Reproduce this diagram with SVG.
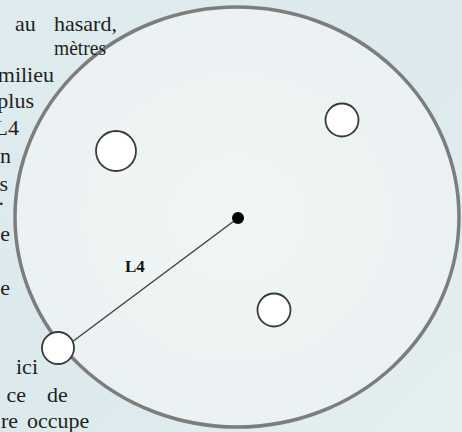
<svg xmlns="http://www.w3.org/2000/svg" width="462" height="432" viewBox="0 0 462 432">
  <defs>
    <linearGradient id="bg" x1="0" y1="0" x2="1" y2="1">
      <stop offset="0" stop-color="#deecef"/>
      <stop offset="0.5" stop-color="#dceaed"/>
      <stop offset="1" stop-color="#e4eff1"/>
    </linearGradient>
    <radialGradient id="disc" cx="0.5" cy="0.5" r="0.6">
      <stop offset="0" stop-color="#f1f5f5"/>
      <stop offset="1" stop-color="#eaf1f2"/>
    </radialGradient>
    <style>
      .para { font-family: "Liberation Serif", "Times New Roman", serif; font-size: 22px; fill: #231f20; }
      .hole { fill: #ffffff; stroke: #3a3a3a; stroke-width: 1.8; }
      .label { font-family: "Liberation Serif", "Times New Roman", serif; font-size: 17px; font-weight: bold; fill: #111111; }
    </style>
  </defs>
  <rect x="0" y="0" width="462" height="432" fill="url(#bg)"/>

  <g id="disc-node">
    <ellipse cx="237" cy="217" rx="222" ry="210" fill="url(#disc)" stroke="#7d7d7d" stroke-width="3.5"/>
  </g>

  <g id="paragraph" class="para">
    <text x="15" y="31">au</text>
    <text x="54" y="31">hasard,</text>
    <text x="54" y="55" textLength="52" lengthAdjust="spacingAndGlyphs">mètres</text>
    <text x="54" y="82" text-anchor="end">milieu</text>
    <text x="34" y="108" text-anchor="end">plus</text>
    <text x="19" y="135" text-anchor="end">L4</text>
    <text x="11" y="163" text-anchor="end">n</text>
    <text x="8" y="191" text-anchor="end">s</text>
    <text x="4" y="205" text-anchor="end">.</text>
    <text x="10" y="241" text-anchor="end">e</text>
    <text x="10" y="295" text-anchor="end">e</text>
    <text x="16" y="374">ici</text>
    <text x="26" y="402" text-anchor="end">ce</text>
    <text x="47" y="402">de</text>
    <text x="18" y="428" text-anchor="end">re</text>
    <text x="27" y="428">occupe</text>
  </g>

  <g id="connectors">
    <line x1="72" y1="342" x2="238" y2="218" stroke="#444444" stroke-width="1.5"/>
  </g>

  <g id="hole-left"><circle class="hole" cx="116" cy="151" r="20"/></g>
  <g id="hole-top-right"><circle class="hole" cx="342" cy="120" r="16.5"/></g>
  <g id="hole-bottom"><circle class="hole" cx="274" cy="310" r="16.5"/></g>
  <g id="hole-edge"><circle class="hole" cx="58" cy="348" r="16"/></g>
  <g id="center"><circle cx="238" cy="218" r="6" fill="#000000"/></g>

  <g id="label-L4">
    <text class="label" x="125" y="272">L4</text>
  </g>
</svg>
